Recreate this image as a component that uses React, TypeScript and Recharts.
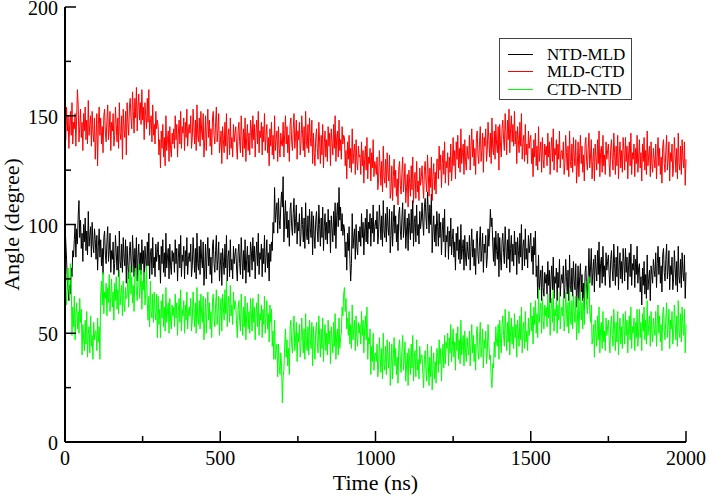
import React from "react";
import { Label, Line, LineChart, XAxis, YAxis } from "recharts";

// angle traces, sampled every 2.5 ns from 0 to 2000 ns (one row = 100 ns)
const STEP_NS = 2.5;

const ntdMld = [
  100, 92, 84, 74, 70, 65, 72, 68, 80, 76, 88, 85, 93, 100, 85, 98, 91, 104, 111, 94, 102, 89, 96, 83, 100, 92, 103, 88, 97, 86, 106, 90, 95, 99, 85, 101, 91, 87, 98, 93,
  84, 95, 79, 90, 98, 85, 93, 81, 89, 77, 94, 97, 86, 82, 92, 99, 83, 88, 96, 78, 88, 84, 92, 77, 82, 95, 87, 79, 90, 76, 97, 83, 80, 91, 78, 94, 85, 81, 93, 73,
  90, 81, 75, 88, 92, 83, 78, 95, 86, 76, 89, 80, 94, 74, 85, 91, 79, 87, 77, 93, 82, 88, 73, 90, 84, 78, 92, 81, 96, 75, 86, 89, 77, 94, 80, 85, 76, 91, 83, 87,
  92, 79, 86, 73, 90, 82, 93, 78, 87, 76, 96, 80, 85, 89, 75, 91, 81, 77, 88, 83, 87, 78, 93, 82, 89, 74, 85, 91, 80, 95, 76, 86, 83, 90, 75, 88, 81, 94, 77, 84,
  87, 83, 91, 76, 81, 94, 86, 78, 89, 75, 96, 82, 79, 90, 77, 93, 84, 80, 92, 72, 80, 91, 75, 86, 94, 81, 89, 77, 85, 73, 90, 93, 82, 78, 88, 95, 79, 84, 92, 74,
  81, 87, 72, 89, 83, 77, 91, 80, 95, 74, 85, 88, 76, 93, 79, 84, 75, 90, 82, 86, 89, 80, 74, 87, 91, 82, 77, 94, 85, 75, 88, 79, 93, 73, 84, 90, 78, 86, 76, 92,
  88, 79, 94, 83, 90, 75, 86, 92, 81, 96, 77, 87, 84, 91, 76, 89, 82, 95, 78, 85, 93, 80, 87, 74, 91, 83, 92, 88, 101, 96, 117, 101, 106, 110, 96, 112, 102, 98, 109, 115,
  108, 122, 92, 103, 111, 98, 106, 94, 102, 90, 107, 110, 99, 95, 105, 112, 96, 101, 109, 91, 101, 97, 105, 90, 95, 108, 100, 92, 103, 89, 110, 96, 93, 104, 91, 107, 98, 94, 106, 86,
  104, 95, 89, 102, 106, 97, 92, 109, 100, 90, 103, 94, 108, 88, 99, 105, 93, 101, 91, 107, 96, 102, 87, 104, 98, 92, 106, 95, 110, 89, 104, 110, 99, 117, 102, 108, 97, 105, 95, 100,
  98, 85, 92, 79, 96, 88, 99, 84, 74, 82, 105, 89, 94, 98, 84, 100, 90, 86, 97, 92, 99, 90, 105, 94, 101, 86, 97, 103, 92, 107, 91, 101, 98, 105, 90, 103, 96, 109, 92, 99,
  102, 98, 106, 91, 96, 109, 101, 93, 104, 90, 111, 97, 94, 105, 92, 108, 99, 95, 107, 87, 95, 106, 90, 101, 109, 96, 104, 92, 100, 88, 105, 108, 97, 93, 103, 110, 94, 99, 107, 89,
  97, 103, 88, 105, 99, 93, 107, 96, 111, 90, 101, 104, 92, 109, 95, 100, 91, 106, 98, 102, 110, 101, 95, 108, 112, 103, 98, 115, 106, 96, 109, 100, 114, 87, 98, 104, 92, 100, 90, 106,
  99, 90, 105, 94, 101, 86, 97, 103, 92, 107, 85, 95, 92, 99, 84, 97, 90, 103, 86, 93, 98, 85, 92, 79, 96, 88, 99, 84, 93, 82, 100, 84, 89, 93, 79, 95, 85, 81, 92, 87,
  84, 95, 79, 90, 98, 85, 93, 81, 89, 77, 94, 97, 86, 82, 92, 99, 83, 88, 96, 78, 91, 87, 95, 80, 85, 98, 90, 96, 107, 99, 103, 92, 83, 94, 81, 97, 88, 84, 96, 76,
  94, 85, 79, 92, 96, 87, 82, 99, 90, 80, 93, 84, 98, 78, 89, 95, 83, 91, 81, 97, 86, 92, 77, 94, 88, 82, 96, 85, 100, 79, 90, 93, 81, 98, 84, 89, 80, 95, 87, 91,
  96, 83, 90, 77, 94, 86, 97, 76, 81, 66, 86, 70, 75, 79, 65, 81, 71, 67, 78, 73, 77, 68, 83, 72, 79, 64, 75, 81, 70, 85, 66, 76, 73, 80, 65, 78, 71, 84, 67, 74,
  77, 73, 81, 66, 71, 84, 76, 68, 79, 65, 86, 72, 69, 80, 67, 83, 74, 70, 82, 62, 70, 81, 65, 76, 82, 69, 77, 65, 73, 61, 78, 81, 70, 66, 76, 89, 73, 80, 89, 72,
  78, 84, 69, 86, 80, 74, 88, 77, 92, 71, 82, 85, 73, 90, 76, 81, 72, 87, 79, 83, 86, 77, 71, 84, 88, 79, 74, 91, 82, 72, 85, 76, 90, 70, 81, 87, 75, 83, 73, 89,
  83, 74, 89, 78, 85, 70, 81, 87, 76, 91, 72, 82, 79, 86, 71, 84, 77, 90, 73, 80, 82, 69, 76, 63, 80, 72, 83, 68, 77, 66, 86, 70, 75, 79, 65, 81, 77, 73, 84, 79,
  76, 87, 71, 82, 90, 77, 85, 73, 81, 69, 86, 89, 78, 74, 84, 91, 75, 80, 88, 70, 81, 77, 85, 70, 75, 88, 80, 72, 83, 69, 90, 76, 73, 84, 71, 87, 78, 74, 86, 66,
  78,
];

const mldCtd = [
  140, 139, 154, 143, 150, 135, 146, 152, 141, 156, 137, 147, 144, 151, 136, 149, 162, 155, 138, 145, 153, 140, 147, 134, 151, 143, 154, 139, 148, 137, 157, 141, 146, 150, 136, 152, 142, 138, 149, 130,
  140, 151, 127, 146, 154, 141, 149, 137, 145, 133, 150, 153, 142, 138, 148, 155, 139, 144, 152, 134, 147, 143, 151, 136, 141, 154, 146, 138, 149, 135, 156, 142, 139, 150, 130, 153, 144, 140, 152, 132,
  156, 147, 141, 154, 158, 149, 144, 161, 152, 142, 158, 149, 163, 143, 154, 160, 148, 156, 146, 162, 148, 154, 139, 156, 150, 144, 158, 147, 162, 141, 147, 150, 138, 155, 141, 146, 137, 152, 144, 148,
  145, 132, 139, 126, 143, 135, 146, 131, 140, 127, 150, 134, 139, 143, 129, 145, 135, 131, 142, 137, 144, 135, 150, 139, 146, 131, 142, 148, 137, 152, 135, 145, 142, 149, 134, 147, 140, 153, 136, 143,
  146, 142, 150, 135, 140, 153, 145, 137, 148, 134, 155, 141, 138, 149, 136, 152, 143, 139, 151, 131, 139, 150, 134, 145, 153, 140, 148, 136, 144, 132, 149, 152, 141, 137, 147, 154, 138, 143, 151, 133,
  137, 143, 128, 145, 139, 133, 147, 136, 151, 130, 141, 144, 132, 149, 135, 140, 131, 146, 138, 142, 145, 136, 130, 143, 147, 138, 133, 150, 141, 131, 144, 135, 149, 129, 140, 146, 134, 142, 132, 148,
  144, 135, 150, 139, 146, 131, 142, 148, 137, 152, 133, 143, 140, 147, 132, 145, 138, 151, 134, 141, 146, 133, 140, 127, 144, 136, 147, 132, 141, 130, 150, 134, 139, 143, 129, 145, 135, 131, 142, 137,
  136, 147, 131, 142, 150, 137, 145, 133, 141, 129, 146, 149, 138, 134, 144, 151, 135, 140, 148, 130, 143, 139, 147, 132, 137, 150, 142, 134, 145, 131, 152, 138, 135, 146, 133, 149, 140, 136, 148, 128,
  142, 133, 127, 140, 144, 135, 130, 147, 138, 128, 141, 132, 146, 126, 137, 143, 131, 139, 129, 145, 136, 142, 127, 144, 138, 132, 146, 135, 150, 129, 140, 143, 131, 148, 134, 139, 130, 145, 137, 141,
  140, 127, 134, 121, 138, 130, 141, 126, 135, 124, 144, 128, 133, 137, 123, 139, 129, 125, 136, 131, 132, 123, 138, 127, 134, 119, 130, 136, 125, 140, 121, 131, 128, 135, 120, 133, 126, 139, 122, 129,
  127, 123, 131, 116, 121, 134, 126, 118, 129, 115, 136, 122, 119, 130, 117, 133, 124, 120, 132, 112, 116, 127, 111, 122, 130, 117, 125, 113, 121, 109, 126, 129, 118, 114, 124, 131, 115, 120, 128, 110,
  117, 123, 108, 125, 119, 113, 127, 116, 131, 110, 121, 124, 112, 129, 115, 120, 111, 126, 118, 122, 127, 118, 112, 125, 129, 120, 115, 132, 123, 113, 126, 117, 131, 111, 122, 128, 116, 124, 114, 130,
  130, 121, 136, 125, 132, 117, 128, 134, 123, 138, 119, 129, 126, 133, 118, 131, 124, 137, 120, 127, 140, 127, 134, 121, 138, 130, 141, 126, 135, 124, 144, 128, 133, 137, 123, 139, 129, 125, 136, 131,
  130, 141, 125, 136, 144, 131, 139, 127, 135, 123, 140, 143, 132, 128, 138, 145, 129, 134, 142, 124, 140, 136, 144, 129, 134, 147, 139, 131, 142, 128, 149, 135, 132, 143, 130, 146, 137, 133, 145, 125,
  146, 137, 131, 144, 148, 139, 134, 151, 142, 132, 148, 139, 153, 133, 144, 150, 138, 146, 136, 152, 137, 143, 128, 145, 139, 133, 147, 136, 151, 130, 138, 141, 129, 146, 132, 137, 128, 143, 135, 139,
  141, 128, 135, 122, 139, 131, 142, 127, 136, 125, 145, 129, 134, 138, 124, 140, 130, 126, 137, 132, 136, 127, 142, 131, 138, 123, 134, 140, 129, 144, 125, 135, 132, 139, 124, 137, 130, 143, 126, 133,
  134, 130, 138, 123, 128, 141, 133, 125, 136, 122, 143, 129, 126, 137, 124, 140, 131, 127, 139, 119, 127, 138, 122, 133, 141, 128, 136, 124, 132, 120, 137, 140, 129, 125, 135, 142, 126, 131, 139, 121,
  129, 135, 120, 137, 131, 125, 139, 128, 143, 122, 133, 136, 124, 141, 127, 132, 123, 138, 130, 134, 137, 128, 122, 135, 139, 130, 125, 142, 133, 123, 136, 127, 141, 121, 132, 138, 126, 134, 124, 140,
  134, 125, 140, 129, 136, 121, 132, 138, 127, 142, 123, 133, 130, 137, 122, 135, 128, 141, 124, 131, 139, 126, 133, 120, 137, 129, 140, 125, 134, 123, 143, 127, 132, 136, 122, 138, 128, 124, 135, 130,
  126, 137, 121, 132, 140, 127, 135, 123, 131, 119, 136, 139, 128, 124, 134, 141, 125, 130, 138, 120, 133, 129, 137, 122, 127, 140, 132, 124, 135, 121, 142, 128, 125, 136, 123, 139, 130, 126, 138, 118,
  130,
];

const ctdNtd = [
  78, 69, 63, 76, 80, 71, 66, 82, 74, 49, 62, 53, 67, 47, 58, 64, 52, 60, 50, 66, 55, 61, 40, 54, 48, 42, 56, 45, 60, 39, 50, 53, 41, 58, 44, 49, 38, 55, 47, 51,
  51, 42, 57, 46, 53, 38, 68, 74, 63, 78, 59, 69, 66, 73, 58, 71, 64, 77, 60, 67, 75, 62, 69, 56, 73, 65, 76, 61, 70, 59, 79, 63, 68, 72, 58, 74, 64, 60, 71, 66,
  67, 78, 62, 73, 81, 68, 76, 64, 72, 60, 77, 80, 69, 65, 75, 82, 66, 71, 79, 61, 74, 70, 78, 63, 68, 81, 64, 56, 67, 53, 74, 60, 57, 68, 55, 69, 60, 56, 68, 48,
  67, 54, 61, 48, 65, 57, 68, 53, 62, 51, 71, 55, 60, 64, 50, 66, 56, 52, 63, 58, 62, 53, 68, 57, 64, 49, 60, 66, 55, 70, 51, 61, 58, 65, 50, 63, 56, 69, 52, 59,
  62, 58, 66, 51, 56, 69, 61, 53, 64, 50, 71, 57, 54, 65, 52, 68, 59, 55, 67, 47, 55, 66, 50, 61, 69, 56, 64, 52, 60, 48, 65, 68, 57, 53, 63, 70, 54, 59, 67, 49,
  60, 66, 51, 68, 62, 56, 70, 59, 74, 53, 64, 67, 55, 72, 58, 63, 54, 69, 61, 65, 63, 54, 48, 61, 65, 56, 51, 68, 59, 49, 62, 53, 67, 47, 58, 64, 52, 60, 50, 66,
  60, 51, 66, 55, 62, 47, 58, 64, 53, 68, 49, 59, 56, 63, 48, 61, 54, 67, 50, 57, 65, 52, 59, 46, 63, 55, 61, 44, 51, 38, 56, 38, 42, 45, 30, 45, 35, 31, 41, 35,
  18, 30, 33, 44, 52, 39, 47, 35, 43, 31, 53, 56, 45, 41, 51, 58, 42, 47, 55, 37, 50, 46, 54, 39, 44, 57, 49, 41, 52, 38, 59, 45, 42, 53, 40, 56, 47, 43, 55, 35,
  53, 44, 38, 51, 55, 46, 41, 58, 49, 39, 52, 43, 57, 37, 48, 54, 42, 50, 40, 56, 45, 51, 36, 53, 47, 41, 55, 44, 59, 38, 49, 52, 40, 57, 43, 48, 50, 62, 58, 68,
  71, 60, 66, 52, 57, 49, 60, 45, 54, 43, 63, 47, 52, 56, 42, 58, 48, 44, 55, 50, 54, 45, 60, 49, 56, 41, 52, 58, 47, 62, 38, 48, 45, 52, 31, 44, 37, 50, 33, 40,
  41, 37, 45, 30, 35, 48, 40, 32, 43, 29, 50, 36, 33, 44, 31, 47, 38, 34, 46, 26, 34, 45, 29, 40, 48, 35, 43, 31, 39, 27, 44, 47, 36, 32, 42, 49, 33, 38, 46, 28,
  35, 41, 26, 43, 37, 31, 45, 34, 49, 28, 39, 42, 30, 47, 33, 38, 29, 44, 36, 40, 40, 31, 25, 38, 42, 33, 28, 45, 36, 26, 39, 30, 44, 24, 35, 41, 29, 37, 27, 43,
  41, 32, 47, 36, 43, 28, 39, 45, 34, 49, 36, 46, 43, 50, 35, 48, 41, 54, 37, 44, 52, 39, 46, 33, 50, 42, 53, 38, 47, 36, 56, 40, 45, 49, 35, 51, 41, 37, 48, 43,
  40, 51, 35, 46, 54, 41, 49, 37, 45, 33, 50, 53, 42, 38, 48, 55, 39, 44, 52, 34, 47, 43, 51, 36, 41, 54, 46, 38, 40, 30, 25, 36, 34, 46, 39, 53, 46, 44, 54, 38,
  56, 47, 41, 54, 58, 49, 44, 61, 52, 42, 55, 46, 60, 40, 51, 57, 45, 53, 43, 59, 48, 54, 39, 56, 50, 44, 58, 47, 62, 41, 52, 55, 43, 60, 46, 51, 42, 57, 49, 53,
  64, 51, 58, 45, 62, 54, 65, 50, 59, 48, 71, 55, 60, 64, 50, 66, 56, 52, 63, 58, 62, 53, 68, 57, 64, 49, 60, 66, 55, 70, 51, 61, 58, 65, 50, 63, 56, 69, 52, 59,
  62, 58, 66, 51, 56, 69, 61, 53, 64, 50, 71, 57, 54, 65, 52, 68, 59, 55, 67, 47, 55, 66, 50, 61, 69, 56, 64, 52, 66, 54, 71, 74, 63, 59, 69, 76, 60, 55, 63, 45,
  48, 54, 39, 56, 50, 44, 58, 47, 62, 41, 52, 55, 43, 60, 46, 51, 42, 57, 49, 53, 56, 47, 41, 54, 58, 49, 44, 61, 52, 42, 55, 46, 60, 40, 51, 57, 45, 53, 43, 59,
  54, 45, 60, 49, 56, 41, 52, 58, 47, 62, 43, 53, 50, 57, 42, 55, 48, 61, 44, 51, 61, 48, 55, 42, 59, 51, 62, 47, 56, 45, 65, 49, 54, 58, 44, 60, 50, 46, 57, 52,
  49, 60, 44, 55, 63, 50, 58, 46, 54, 42, 59, 62, 51, 47, 57, 64, 48, 53, 61, 43, 56, 52, 60, 45, 50, 63, 55, 47, 58, 44, 65, 51, 48, 59, 46, 62, 53, 49, 61, 41,
  54,
];

const xTicks = [0, 250, 500, 750, 1000, 1250, 1500, 1750, 2000];
const yTicks = [0, 25, 50, 75, 100, 125, 150, 175, 200];
const xMajor = 500;
const yMajor = 50;

const seriesNames = ["NTD-MLD", "MLD-CTD", "CTD-NTD"];
const seriesColors = ["#000000", "#ff0000", "#00ff00"];

const data = ntdMld.map((v, i) => ({
  t: i * STEP_NS,
  ntdMld: v,
  mldCtd: mldCtd[i],
  ctdNtd: ctdNtd[i],
}));

const FONT = "'Liberation Serif', 'Times New Roman', serif";
const MAJOR_LEN = 11;
const MINOR_LEN = 6;

function BottomTick({ x, y, payload }: any) {
  const major = payload.value % xMajor === 0;
  return (
    <g>
      <line x1={x} y1={y} x2={x} y2={y - (major ? MAJOR_LEN : MINOR_LEN)} stroke="#000" strokeWidth={1.5} />
      {major && (
        <text x={x} y={y + 23} textAnchor="middle" fontSize={20} fontFamily={FONT} fill="#000">
          {payload.value}
        </text>
      )}
    </g>
  );
}

function TopTick({ x, y, payload }: any) {
  const major = payload.value % xMajor === 0;
  return <line x1={x} y1={y} x2={x} y2={y + (major ? MAJOR_LEN : MINOR_LEN)} stroke="#000" strokeWidth={1.5} />;
}

function LeftTick({ x, y, payload }: any) {
  const major = payload.value % yMajor === 0;
  return (
    <g>
      <line x1={x} y1={y} x2={x + (major ? MAJOR_LEN : MINOR_LEN)} y2={y} stroke="#000" strokeWidth={1.5} />
      {major && (
        <text x={x - 7} y={y + 8} textAnchor="end" fontSize={20} fontFamily={FONT} fill="#000">
          {payload.value}
        </text>
      )}
    </g>
  );
}

function RightTick({ x, y, payload }: any) {
  const major = payload.value % yMajor === 0;
  return <line x1={x} y1={y} x2={x - (major ? MAJOR_LEN : MINOR_LEN)} y2={y} stroke="#000" strokeWidth={1.5} />;
}

const axisLine = { stroke: "#000", strokeWidth: 2 };
const TRACE_WIDTH = 1;

export default function App() {
  return (
    <div style={{ position: "absolute", left: 0, top: 0, width: 709, height: 496, background: "#fff" }}>
      <LineChart width={709} height={496} data={data} margin={{ top: 7, right: 23, bottom: 0, left: 0 }}>
        <XAxis
          dataKey="t"
          type="number"
          domain={[0, 2000]}
          ticks={xTicks}
          interval={0}
          height={54}
          tickSize={0}
          tickMargin={0}
          tickLine={false}
          axisLine={axisLine}
          tick={<BottomTick />}
        >
          <Label
            content={({ viewBox }: any) => (
              <text
                x={viewBox.x + viewBox.width / 2}
                y={viewBox.y + 48}
                textAnchor="middle"
                fontSize={22}
                fontFamily={FONT}
                fill="#000"
              >
                Time (ns)
              </text>
            )}
          />
        </XAxis>
        <XAxis
          xAxisId="top"
          orientation="top"
          dataKey="t"
          type="number"
          domain={[0, 2000]}
          ticks={xTicks}
          interval={0}
          height={0}
          tickSize={0}
          tickMargin={0}
          tickLine={false}
          axisLine={axisLine}
          tick={<TopTick />}
        />
        <YAxis
          type="number"
          domain={[0, 200]}
          ticks={yTicks}
          interval={0}
          width={65}
          tickSize={0}
          tickMargin={0}
          tickLine={false}
          axisLine={axisLine}
          tick={<LeftTick />}
        >
          <Label
            content={({ viewBox }: any) => {
              const cx = viewBox.x + 11;
              const cy = viewBox.y + viewBox.height / 2;
              return (
                <text
                  x={cx}
                  y={cy}
                  transform={`rotate(-90, ${cx}, ${cy})`}
                  textAnchor="middle"
                  dominantBaseline="central"
                  fontSize={22}
                  fontFamily={FONT}
                  fill="#000"
                >
                  Angle (degree)
                </text>
              );
            }}
          />
        </YAxis>
        <YAxis
          yAxisId="right"
          orientation="right"
          type="number"
          domain={[0, 200]}
          ticks={yTicks}
          interval={0}
          width={0}
          tickSize={0}
          tickMargin={0}
          tickLine={false}
          axisLine={axisLine}
          tick={<RightTick />}
        />
        <Line dataKey="ntdMld" stroke={seriesColors[0]} strokeWidth={TRACE_WIDTH} dot={false} isAnimationActive={false} />
        <Line dataKey="mldCtd" stroke={seriesColors[1]} strokeWidth={TRACE_WIDTH} dot={false} isAnimationActive={false} />
        <Line dataKey="ctdNtd" stroke={seriesColors[2]} strokeWidth={TRACE_WIDTH} dot={false} isAnimationActive={false} />
      </LineChart>
      <div
        style={{
          position: "absolute",
          left: 499,
          top: 38,
          width: 131,
          height: 60,
          border: "1px solid #444",
          background: "#fff",
          fontFamily: FONT,
          fontSize: 17,
          boxSizing: "content-box",
        }}
      >
        {seriesNames.map((name, i) => (
          <div
            key={name}
            style={{ position: "absolute", left: 0, top: 6.5 + i * 17.5, height: 17, display: "flex", alignItems: "center" }}
          >
            <div style={{ marginLeft: 8, width: 25, height: 0, borderTop: `1px solid ${seriesColors[i]}` }} />
            <span style={{ marginLeft: 14, lineHeight: "17px", whiteSpace: "nowrap" }}>{name}</span>
          </div>
        ))}
      </div>
    </div>
  );
}
